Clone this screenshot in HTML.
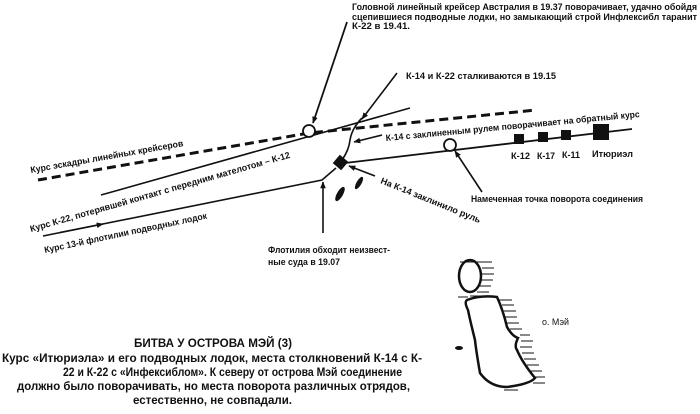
<!DOCTYPE html>
<html><head><meta charset="utf-8"><style>
html,body{margin:0;padding:0;background:#fff;width:700px;height:414px;overflow:hidden}
svg{display:block}
text{font-family:"Liberation Sans Narrow","Liberation Sans",sans-serif;fill:#111;font-weight:bold}
</style></head><body>
<svg width="700" height="414" viewBox="0 0 700 414" xmlns="http://www.w3.org/2000/svg">
<defs>
<marker id="a" viewBox="0 0 10 10" refX="9" refY="5" markerWidth="7" markerHeight="7" orient="auto-start-reverse" markerUnits="userSpaceOnUse">
<path d="M0,1 L10,5 L0,9 z" fill="#111"/></marker>
</defs>
<g stroke="#111" fill="none">
<polyline points="38,180 309,133 536,110" stroke-width="3" stroke-dasharray="9,5"/>
<line x1="101" y1="195" x2="410" y2="108" stroke-width="1.6"/>
<circle cx="309" cy="131" r="6" stroke-width="1.8" fill="#fff"/>
<line x1="345" y1="163" x2="632" y2="129" stroke-width="1.8"/>
<circle cx="450" cy="145" r="6" stroke-width="1.8" fill="#fff"/>
<path d="M342,160 Q349,150 350,140 Q352,128 362,118" stroke-width="1.6"/>
<polyline points="43,236 322,180 336,168" stroke-width="1.6"/>
<line x1="60" y1="232.5" x2="103" y2="224" stroke-width="1.6" marker-end="url(#a)"/>
<line x1="347" y1="22" x2="313" y2="123" stroke-width="1.8" marker-end="url(#a)"/>
<line x1="397" y1="73" x2="362" y2="119" stroke-width="1.6" marker-end="url(#a)"/>
<line x1="382" y1="135" x2="354" y2="142" stroke-width="1.6" marker-end="url(#a)"/>
<line x1="375" y1="176" x2="349" y2="166" stroke-width="1.6" marker-end="url(#a)"/>
<line x1="323" y1="233" x2="323" y2="182" stroke-width="1.6" marker-end="url(#a)"/>
<line x1="482" y1="192" x2="455" y2="151" stroke-width="1.6" marker-end="url(#a)"/>
</g>
<g fill="#111">
<rect x="335" y="157" width="11" height="11" transform="rotate(40 340.5 162.5)"/>
<rect x="514" y="134" width="10" height="10"/>
<rect x="538" y="132" width="10" height="10"/>
<rect x="561" y="130" width="10" height="10"/>
<rect x="593" y="124" width="16" height="16"/>
<ellipse cx="359" cy="183" rx="2.5" ry="7" transform="rotate(30 359 183)"/>
<ellipse cx="340" cy="194" rx="3" ry="8" transform="rotate(30 340 194)"/>
</g>
<g stroke="#111" fill="none">
<ellipse cx="470" cy="276" rx="11" ry="16" stroke-width="2.5"/>
<path d="M467,300 Q480,295 497,297 Q503,310 507,327 Q512,336 518,338 Q514,346 517,350 Q522,362 535,378 Q530,384 507,387 Q490,387 480,373 Q476,350 475,340 Q470,320 468,310 Q464,302 467,300 z" stroke-width="2.5"/>
<g stroke-width="1">
<path d="M480,262h12M482,268h12M482,274h12M481,280h12M479,286h12M477,292h12M498,300h14M502,305h12M504,311h12M505,317h12M507,323h12M510,329h12M520,335h10M521,341h12M520,347h12M522,353h12M524,359h12M527,365h12M530,371h12M535,377h10M533,383h12M504,390h14M480,262h-20M470,296h20M458,297h10"/>
</g>
<ellipse cx="459" cy="348" rx="4" ry="2" fill="#111" stroke="none"/>
</g>
<g font-size="9">
<text x="352" y="10" textLength="345" lengthAdjust="spacingAndGlyphs">Головной линейный крейсер Австралия в 19.37 поворачивает, удачно обойдя</text>
<text x="352" y="20" textLength="345" lengthAdjust="spacingAndGlyphs">сцепившиеся подводные лодки, но замыкающий строй Инфлексибл таранит</text>
<text x="352" y="29" textLength="58" lengthAdjust="spacingAndGlyphs">К-22 в 19.41.</text>
<text x="406" y="79" textLength="150" lengthAdjust="spacingAndGlyphs">К-14 и К-22 сталкиваются в 19.15</text>
<text x="386" y="141" transform="rotate(-5.4 386 141)" textLength="255" lengthAdjust="spacingAndGlyphs">К-14 с заклиненным рулем поворачивает на обратный курс</text>
<text x="31" y="173" transform="rotate(-10 31 173)" textLength="155" lengthAdjust="spacingAndGlyphs">Курс эскадры линейных крейсеров</text>
<text x="31" y="232" transform="rotate(-16 31 232)" textLength="270" lengthAdjust="spacingAndGlyphs">Курс К-22, потерявшей контакт с передним мателотом – К-12</text>
<text x="45" y="253" transform="rotate(-12 45 253)" textLength="166" lengthAdjust="spacingAndGlyphs">Курс 13-й флотилии подводных лодок</text>
<text x="380" y="183" transform="rotate(22 380 183)" textLength="107" lengthAdjust="spacingAndGlyphs">На К-14 заклинило руль</text>
<text x="471" y="202" textLength="172" lengthAdjust="spacingAndGlyphs">Намеченная точка поворота соединения</text>
<text x="268" y="253" textLength="122" lengthAdjust="spacingAndGlyphs">Флотилия обходит неизвест-</text>
<text x="268" y="265" textLength="72" lengthAdjust="spacingAndGlyphs">ные суда в 19.07</text>
<text x="511" y="159" textLength="19" lengthAdjust="spacingAndGlyphs">К-12</text>
<text x="537" y="159" textLength="18" lengthAdjust="spacingAndGlyphs">К-17</text>
<text x="562" y="158" textLength="18" lengthAdjust="spacingAndGlyphs">К-11</text>
<text x="592" y="157" textLength="41" lengthAdjust="spacingAndGlyphs">Итюриэл</text>
<text x="542" y="325" textLength="27" lengthAdjust="spacingAndGlyphs" style="font-weight:normal">о. Мэй</text>
</g>
<g font-size="11.5">
<text x="213" y="347" text-anchor="middle" textLength="158" lengthAdjust="spacingAndGlyphs">БИТВА У ОСТРОВА МЭЙ (3)</text>
<text x="2" y="362" textLength="420" lengthAdjust="spacingAndGlyphs">Курс «Итюриэла» и его подводных лодок, места столкновений К-14 с К-</text>
<text x="63" y="376" textLength="339" lengthAdjust="spacingAndGlyphs">22 и К-22 с «Инфексиблом». К северу от острова Мэй соединение</text>
<text x="17" y="390" textLength="393" lengthAdjust="spacingAndGlyphs">должно было поворачивать, но места поворота различных отрядов,</text>
<text x="133" y="404" textLength="159" lengthAdjust="spacingAndGlyphs">естественно, не совпадали.</text>
</g>
</svg>
</body></html>
